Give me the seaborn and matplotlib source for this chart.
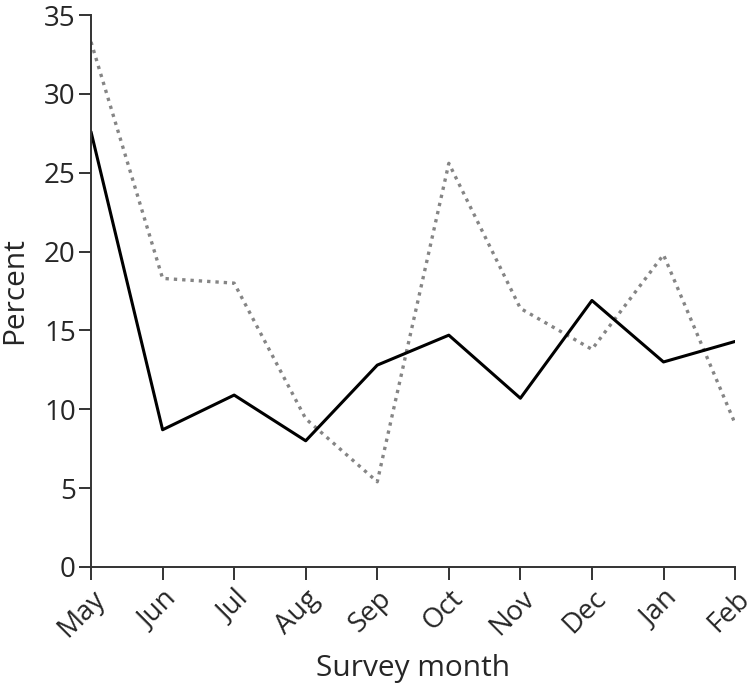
import matplotlib
matplotlib.use("Agg")
import matplotlib.pyplot as plt
import seaborn as sns
import pandas as pd

months = ["May", "Jun", "Jul", "Aug", "Sep", "Oct", "Nov", "Dec", "Jan", "Feb"]
solid_vals = [27.6, 8.7, 10.9, 8.0, 12.8, 14.7, 10.7, 16.9, 13.0, 14.3]
dotted_vals = [33.3, 18.3, 18.0, 9.4, 5.4, 25.6, 16.4, 13.8, 19.8, 9.1]

sns.set_style("ticks")
plt.rcParams['font.family'] = ['Open Sans', 'DejaVu Sans']

df = pd.DataFrame({"month": months, "solid": solid_vals, "dotted": dotted_vals})

fig = plt.figure(figsize=(7.48, 6.88), dpi=100)
ax = fig.add_axes([0.1217, 0.176, 0.861, 0.802])

sns.lineplot(data=df, x="month", y="dotted", sort=False, ax=ax, color="#858585",
             linewidth=2.4, linestyle=(0, (1, 1.5)))
sns.lineplot(data=df, x="month", y="solid", sort=False, ax=ax, color="black",
             linewidth=2.2)

ax.set_xlim(0, len(months) - 1)
ax.set_ylim(0, 35)
ax.set_yticks(range(0, 36, 5))
ax.set_xticks(range(len(months)))
ax.set_xticklabels(months, rotation=45, ha="right", rotation_mode="anchor")
ax.tick_params(axis="both", labelsize=20, length=9, width=1.4, color="#333333",
               pad=2)
ax.tick_params(axis="x", pad=4)
for s in ["left", "bottom"]:
    ax.spines[s].set_linewidth(1.4)
    ax.spines[s].set_color("#333333")
sns.despine(ax=ax)
ax.set_xlabel("Survey month", fontsize=21.5, labelpad=8)
ax.set_ylabel("Percent", fontsize=21.5, labelpad=11)

fig.savefig("out.png", dpi=100)
